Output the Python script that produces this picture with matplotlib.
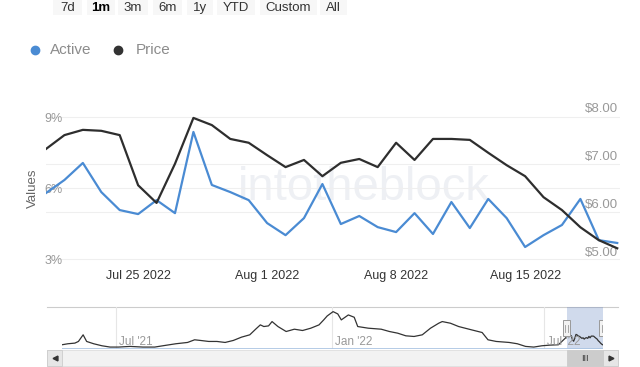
import matplotlib
matplotlib.use("Agg")
import matplotlib.pyplot as plt
import matplotlib.dates as mdates
import matplotlib.transforms as mtransforms
from matplotlib.patches import Rectangle
import pandas as pd

plt.rcParams['font.family'] = ['Liberation Sans', 'DejaVu Sans']

# --------- DATA ---------

dates = pd.date_range("2022-07-20", "2022-08-20", freq="D")

active_pct = [5.79, 6.34, 7.06, 5.83, 5.07, 4.90, 5.49, 4.94, 8.37, 6.13,
              5.83, 5.49, 4.52, 4.01, 4.73, 6.17, 4.48, 4.82, 4.35, 4.14,
              4.94, 4.06, 5.41, 4.31, 5.54, 4.73, 3.51, 4.01, 4.44, 5.54,
              3.80, 3.68]

price_usd = [7.14, 7.43, 7.54, 7.52, 7.43, 6.38, 6.01, 6.83, 7.79, 7.64,
             7.35, 7.27, 7.01, 6.76, 6.91, 6.57, 6.85, 6.93, 6.76, 7.27,
             6.91, 7.35, 7.35, 7.33, 7.06, 6.80, 6.57, 6.13, 5.86, 5.50,
             5.23, 5.06]

# longer price history shown in the navigator (before the selected month)
nav_dates = ["2021-05-16", "2021-05-21", "2021-05-27", "2021-05-30", "2021-06-03",
             "2021-06-06", "2021-06-12", "2021-06-19", "2021-06-26", "2021-07-03",
             "2021-07-13", "2021-07-24", "2021-08-03", "2021-08-10", "2021-08-21",
             "2021-08-31", "2021-09-06", "2021-09-11", "2021-09-18", "2021-09-25",
             "2021-10-02", "2021-10-09", "2021-10-16", "2021-10-23", "2021-10-28",
             "2021-11-01", "2021-11-04", "2021-11-08", "2021-11-11", "2021-11-16",
             "2021-11-23", "2021-11-30", "2021-12-07", "2021-12-14", "2021-12-21",
             "2021-12-25", "2021-12-28", "2022-01-02", "2022-01-06", "2022-01-09",
             "2022-01-15", "2022-01-20", "2022-01-23", "2022-02-01", "2022-02-12",
             "2022-02-19", "2022-02-26", "2022-03-05", "2022-03-12", "2022-03-19",
             "2022-03-26", "2022-04-02", "2022-04-05", "2022-04-12", "2022-04-19",
             "2022-04-30", "2022-05-09", "2022-05-14", "2022-05-21", "2022-06-01",
             "2022-06-08", "2022-06-15", "2022-06-22", "2022-06-29", "2022-07-06",
             "2022-07-13"]
nav_price = [5.10, 5.36, 5.53, 5.96, 7.68, 5.96, 5.36, 4.84, 4.50, 4.50,
             4.67, 4.50, 4.50, 4.84, 5.36, 5.70, 6.39, 6.22, 5.96, 5.96,
             5.70, 6.22, 7.08, 7.68, 9.14, 10.26, 9.83, 10.00, 11.12, 9.83,
             8.54, 9.14, 8.80, 9.40, 10.26, 11.55, 12.58, 13.70, 13.10, 11.55,
             12.84, 12.24, 9.83, 9.40, 9.14, 8.54, 8.11, 7.42, 7.25, 7.68,
             9.40, 10.69, 11.12, 10.69, 9.83, 8.97, 8.28, 6.39, 5.96, 5.70,
             5.36, 4.67, 4.50, 4.84, 5.01, 5.10]

x_ticks = ["2022-07-25", "2022-08-01", "2022-08-08", "2022-08-15"]
x_tick_labels = ["Jul 25 2022", "Aug 1 2022", "Aug 8 2022", "Aug 15 2022"]
left_ticks = [3, 6, 9]
left_labels = ["3%", "6%", "9%"]
right_ticks = [5, 6, 7, 8]
right_labels = ["$5.00", "$6.00", "$7.00", "$8.00"]
nav_ticks = ["2021-07-01", "2022-01-01", "2022-07-01"]
nav_labels = ["Jul '21", "Jan '22", "Jul '22"]
buttons = ["7d", "1m", "3m", "6m", "1y", "YTD", "Custom", "All"]
button_edges = [(53, 82), (87, 115), (118, 148), (153, 182), (187, 213),
                (217, 255), (260, 317), (320, 347)]

BLUE = "#4a8bd3"
DARK = "#2e2e2e"

# --------- FIGURE ---------

W, H = 640, 367
fig = plt.figure(figsize=(W / 100, H / 100), dpi=100)

# overlay in pixel coordinates for the chrome (buttons, legend, scrollbar)
ov = fig.add_axes([0, 0, 1, 1], zorder=-1)
ov.set_xlim(0, W)
ov.set_ylim(H, 0)
ov.axis("off")

for label, (l, r) in zip(buttons, button_edges):
    ov.add_patch(Rectangle((l, -5), r - l, 20, color="#f7f7f7", lw=0))
    ov.text((l + r) / 2, 11, label, ha="center", va="baseline", fontsize=9.5,
            color="#000000" if label == "1m" else "#333333",
            fontweight="bold" if label == "1m" else "normal")

ov.plot(35, 50, "o", ms=6, color=BLUE)
ov.text(50, 50, "Active", fontsize=11, color="#8c8c8c", va="center")
ov.plot(118, 50, "o", ms=6, color="#333333")
ov.text(136, 50, "Price", fontsize=11, color="#8c8c8c", va="center")

ov.text(33, 188, "Values", rotation=90, fontsize=9.5, color="#666666",
        ha="center", va="center")
ov.text(238, 188, "intotheblock", fontsize=34, color="#eef0f4",
        ha="left", va="center")

# navigator outline and scrollbar
ov.plot([47, 618], [307, 307], color="#cccccc", lw=0.8)
ov.add_patch(Rectangle((47, 350), 571, 16, facecolor="#f2f2f2", edgecolor="#dddddd", lw=0.6))
ov.add_patch(Rectangle((47, 350), 15, 16, facecolor="#e6e6e6", edgecolor="#cccccc", lw=0.6))
ov.add_patch(Rectangle((603, 350), 15, 16, facecolor="#e6e6e6", edgecolor="#cccccc", lw=0.6))
ov.add_patch(Rectangle((567, 350), 36, 16, facecolor="#cccccc", edgecolor="#cccccc", lw=0.6))
ov.plot(54.5, 358, marker="<", ms=3.5, color="#333333")
ov.plot(610.5, 358, marker=">", ms=3.5, color="#333333")
ov.text(585, 358.5, "III", fontsize=6.5, color="#333333", ha="center", va="center")

# --------- MAIN CHART ---------

ax = fig.add_axes([46 / W, 1 - 265 / H, (620 - 46) / W, (265 - 95) / H])
ax.patch.set_alpha(0)
ax2 = ax.twinx()

ax.plot(dates, active_pct, color=BLUE, lw=1.6, zorder=3)
ax2.plot(dates, price_usd, color=DARK, lw=1.6)

x0 = mdates.date2num(dates[0])
x1 = mdates.date2num(dates[-1]) + 0.15
ax.set_xlim(x0, x1)
ax.set_ylim(2.75, 9.93)
ax2.set_ylim(4.71, 8.27)

ax.set_xticks(pd.to_datetime(x_ticks))
ax.set_xticklabels(x_tick_labels)
ax.set_yticks(left_ticks)
ax.set_yticklabels(left_labels)
ax.set_yticks([5, 7], minor=True)
ax.grid(axis="y", which="both", color="#efefef", lw=0.8)
ax.set_axisbelow(True)
ax2.set_yticks(right_ticks)
ax2.set_yticklabels(right_labels)

ax.tick_params(axis="x", length=0, pad=3.6, labelsize=9, labelcolor="#333333")
ax.tick_params(axis="y", which="both", length=0, pad=-12.2, labelsize=9,
               labelcolor="#999999")
ax2.tick_params(axis="y", length=0, pad=-25.5, labelsize=9.5, labelcolor="#999999")
for a in (ax, ax2):
    for s in a.spines.values():
        s.set_visible(False)

# --------- NAVIGATOR ---------

nav = fig.add_axes([62 / W, 1 - 349 / H, (603 - 62) / W, 42 / H])
nav.patch.set_alpha(0)
all_dates = list(pd.to_datetime(nav_dates)) + list(dates)
all_price = nav_price + price_usd
nav.plot(all_dates, all_price, color="#333333", lw=0.9)
nav.set_xlim(mdates.date2num(all_dates[0]), mdates.date2num(all_dates[-1]))
nav.set_ylim(4.0, 14.9)
nav.set_xticks([])
nav.set_yticks([])
for s in nav.spines.values():
    s.set_visible(False)
nav.axhline(4.0, color="#a8c2e2", lw=1.2)

blend = mtransforms.blended_transform_factory(nav.transData, nav.transAxes)
for d, lab in zip(pd.to_datetime(nav_ticks), nav_labels):
    nav.axvline(d, color="#e6e6e6", lw=0.8, zorder=0)
    nav.annotate(lab, (mdates.date2num(d), 0.17), xycoords=blend, xytext=(2, 0),
                 textcoords="offset points", va="center", fontsize=8.5, color="#999999")

sel0 = mdates.date2num(dates[0])
sel1 = mdates.date2num(dates[-1])
nav.axvspan(sel0, sel1, color="#6685c2", alpha=0.3, lw=0)
for xs in (sel0, sel1):
    nav.add_patch(Rectangle((xs - 3, 0.3), 6, 0.38, transform=blend,
                            facecolor="#f2f2f2", edgecolor="#999999", lw=0.7, zorder=5))
    for dx in (-1, 1):
        nav.plot([xs + dx, xs + dx], [0.4, 0.58], transform=blend,
                 color="#999999", lw=0.6, zorder=6)

fig.savefig("out.png", dpi=100)
